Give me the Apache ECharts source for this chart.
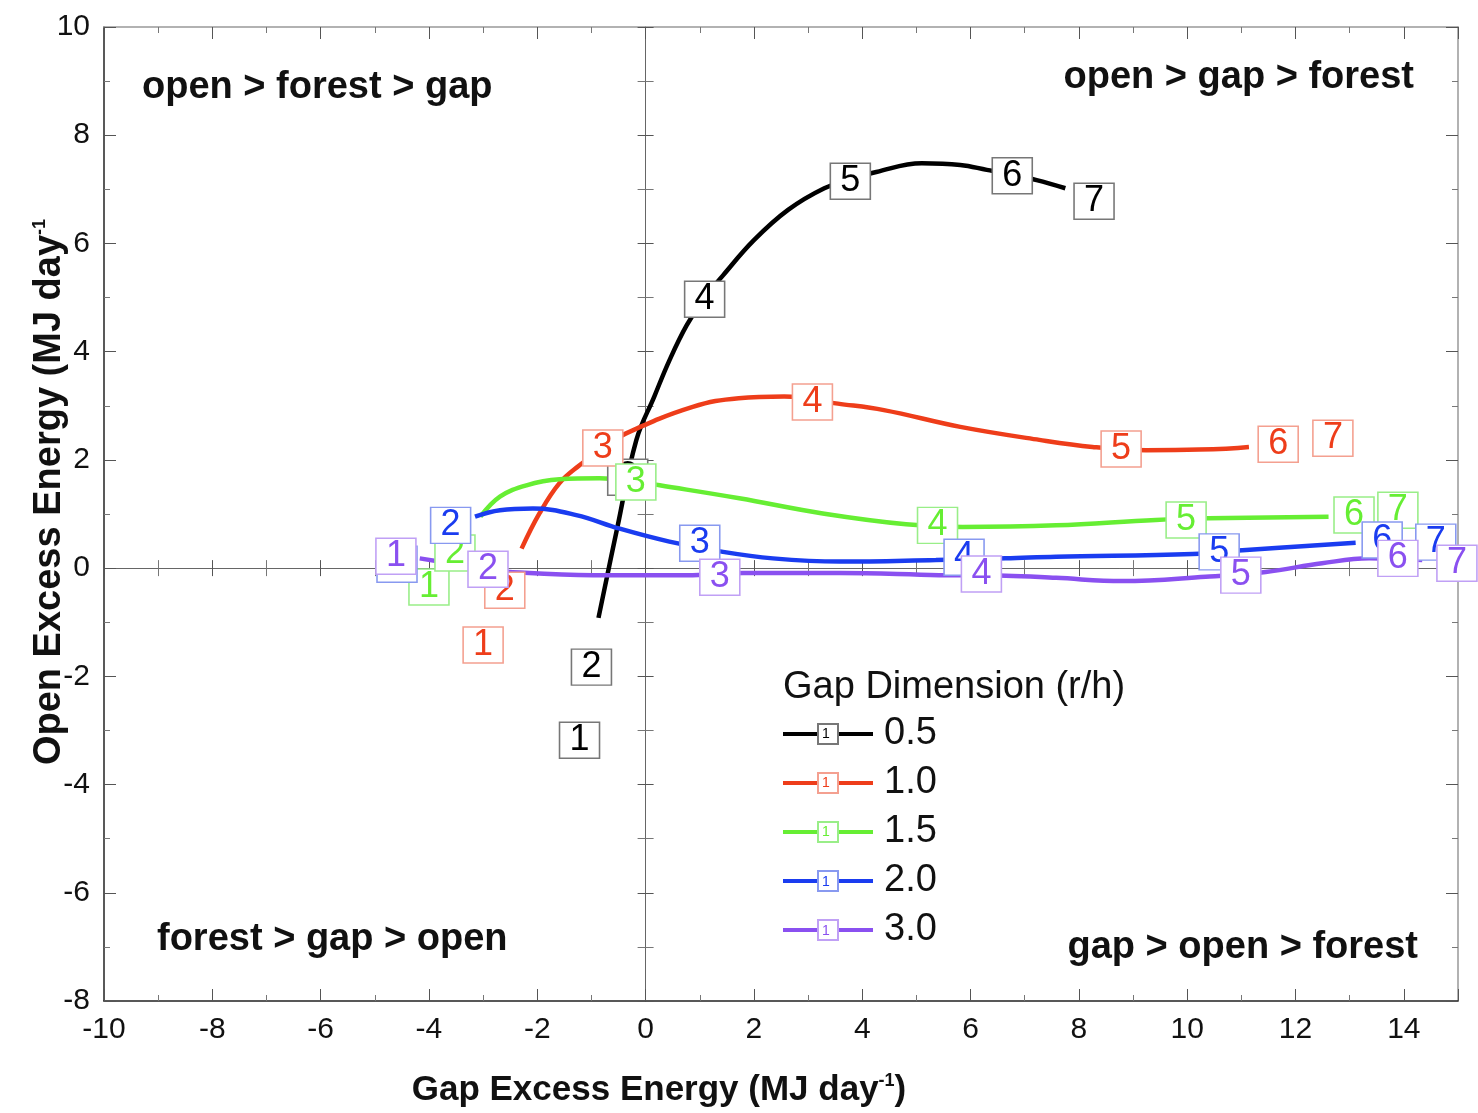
<!DOCTYPE html>
<html>
<head>
<meta charset="utf-8">
<script src="https://cdn.jsdelivr.net/npm/echarts@6/dist/echarts.min.js"></script>
<style>
  html, body { margin: 0; padding: 0; background: #fff; }
  #chart { width: 1478px; height: 1113px; }
</style>
</head>
<body>
<div id="chart"></div>
<script>
// gap dimension groups (r/h)
var groupNames = ['0.5', '1.0', '1.5', '2.0', '3.0'];
var lineColors = ['#000000', '#ee3d1a', '#66ee33', '#1a3cf0', '#8a50f0'];
var boxColors = ['#777777', '#f4a090', '#99ee88', '#8899f0', '#c0a0f5'];

// numbered points 1..7, [gap excess, open excess]
var pts05 = [[-1.22, -3.18], [-1.0, -1.83], [-0.33, 1.68], [1.09, 4.97], [3.78, 7.15], [6.77, 7.25], [8.28, 6.78]];
var pts10 = [[-3.0, -1.42], [-2.6, -0.41], [-0.79, 2.22], [3.08, 3.07], [8.78, 2.2], [11.68, 2.29], [12.69, 2.4]];
var pts15 = [[-4.0, -0.35], [-3.52, 0.28], [-0.18, 1.59], [5.39, 0.79], [9.98, 0.89], [13.08, 0.98], [13.89, 1.07]];
var pts20 = [[-4.59, 0.07], [-3.6, 0.79], [1.0, 0.46], [5.88, 0.2], [10.59, 0.3], [13.6, 0.52], [14.59, 0.48]];
var pts30 = [[-4.61, 0.22], [-2.91, -0.02], [1.37, -0.17], [6.2, -0.11], [10.99, -0.13], [13.89, 0.18], [14.98, 0.09]];

// smoothed curves
var curve05 = [[-0.87, -0.92], [-0.52, 0.76], [-0.17, 2.37], [0.16, 3.17], [0.44, 3.84], [0.76, 4.49], [1.09, 5.0],
  [1.43, 5.41], [2.0, 6.06], [2.63, 6.62], [3.3, 7.02], [3.78, 7.18], [4.26, 7.32], [5.1, 7.48], [5.81, 7.45],
  [6.3, 7.36], [6.77, 7.27], [7.22, 7.17], [7.75, 7.02]];
var curve10 = [[-2.29, 0.36], [-1.96, 1.01], [-1.59, 1.57], [-1.22, 1.9], [-0.79, 2.22], [-0.36, 2.49], [0.87, 2.98],
  [1.72, 3.14], [2.56, 3.17], [3.55, 3.04], [4.4, 2.92], [5.81, 2.61], [7.27, 2.37], [8.25, 2.24], [9.24, 2.18],
  [10.22, 2.19], [11.14, 2.24]];
var curve15 = [[-3.05, 0.95], [-2.69, 1.32], [-2.2, 1.53], [-1.59, 1.64], [-0.85, 1.66], [-0.18, 1.6], [0.26, 1.53],
  [1.73, 1.29], [3.27, 1.01], [4.81, 0.81], [5.85, 0.76], [7.58, 0.79], [9.42, 0.89], [10.4, 0.92], [12.61, 0.95]];
var curve20 = [[-3.15, 0.95], [-2.69, 1.07], [-2.08, 1.1], [-1.28, 0.98], [-0.48, 0.73], [0.44, 0.49], [1.43, 0.3],
  [2.35, 0.18], [3.58, 0.12], [5.36, 0.15], [6.65, 0.18], [7.58, 0.21], [10.1, 0.26], [11.02, 0.33], [13.11, 0.47]];
var curve30 = [[-4.17, 0.18], [-3.43, 0.06], [-2.91, -0.02], [-2.51, -0.07], [-0.97, -0.13], [0.87, -0.13], [1.8, -0.09],
  [3.58, -0.09], [5.42, -0.13], [6.65, -0.14], [7.58, -0.18], [8.8, -0.24], [10.34, -0.16], [11.45, -0.07],
  [12.49, 0.09], [13.36, 0.18], [14.34, 0.15]];

var allPts = [pts05, pts10, pts15, pts20, pts30];
var allCurves = [curve05, curve10, curve15, curve20, curve30];

var quadrantText = ['open > forest > gap', 'open > gap > forest', 'forest > gap > open', 'gap > open > forest'];

var FONT = '"Liberation Sans", Arial, Helvetica, sans-serif';

function xAx(pos, onZero, lineColor, showLabel) {
  return {
    type: 'value', min: -10, max: 15, interval: 2, position: pos,
    axisLine: { show: true, onZero: onZero, onZeroAxisIndex: 0, lineStyle: { color: lineColor, width: onZero ? 1 : 1.5 } },
    axisTick: { show: true, inside: true, length: onZero ? 8 : 12, lineStyle: { color: '#555' } },
    minorTick: { show: true, splitNumber: 2, length: onZero ? 8 : 6, lineStyle: { color: '#777' } },
    axisLabel: {
      show: showLabel, fontSize: 30, color: '#111', margin: 14, fontFamily: FONT,
      formatter: function (v) { return v === 15 ? '' : v; }
    },
    splitLine: { show: false }
  };
}
function yAx(pos, onZero, lineColor, showLabel) {
  return {
    type: 'value', min: -8, max: 10, interval: 2, position: pos,
    axisLine: { show: true, onZero: onZero, onZeroAxisIndex: 0, lineStyle: { color: lineColor, width: onZero ? 1 : 1.5 } },
    axisTick: { show: true, inside: true, length: onZero ? 8 : 12, lineStyle: { color: '#555' } },
    minorTick: { show: true, splitNumber: 2, length: onZero ? 8 : 6, lineStyle: { color: '#777' } },
    axisLabel: { show: showLabel, fontSize: 30, color: '#111', margin: 14, fontFamily: FONT },
    splitLine: { show: false }
  };
}

var series = [];
allCurves.forEach(function (c, i) {
  series.push({
    name: groupNames[i],
    type: 'line',
    data: c,
    smooth: 0.4,
    showSymbol: false,
    symbol: 'rect',
    z: 2,
    silent: true,
    lineStyle: { color: lineColors[i], width: 4.5 },
    itemStyle: { color: '#fff', borderColor: boxColors[i], borderWidth: 1 }
  });
});
allPts.forEach(function (p, i) {
  series.push({
    name: groupNames[i] + ' points',
    type: 'scatter',
    data: p,
    symbol: 'rect',
    symbolSize: [40, 36],
    z: 3 + i,
    silent: true,
    itemStyle: { color: '#fff', borderColor: boxColors[i], borderWidth: 1.5, opacity: 1 },
    label: {
      show: true, position: 'inside', fontSize: 36, fontFamily: FONT, color: lineColors[i],
      formatter: function (d) { return String(d.dataIndex + 1); }
    }
  });
});

var qStyle = { font: 'bold 38px ' + FONT, fill: '#111', verticalAlign: 'middle' };
function qText(t, x, y, align) {
  return { type: 'text', x: x, y: y, z: 20, style: Object.assign({ text: t, align: align }, qStyle) };
}

// small "1" inside each legend marker box
var legendMarks = groupNames.map(function (n, i) {
  return {
    type: 'text', x: 826, y: 734 + i * 49.3, z: 30,
    style: { text: '1', align: 'center', verticalAlign: 'middle', font: '14px ' + FONT, fill: lineColors[i] }
  };
});

var chart = echarts.init(document.getElementById('chart'));
chart.setOption({
  backgroundColor: '#fff',
  animation: false,
  grid: { left: 104, right: 20, top: 27, bottom: 112 },
  title: {
    text: 'Gap Dimension (r/h)', left: 778, top: 664,
    textStyle: { fontSize: 38, fontWeight: 'normal', color: '#111', fontFamily: FONT }
  },
  legend: {
    data: groupNames, orient: 'vertical', left: 776, top: 710,
    itemWidth: 90, itemHeight: 25, itemGap: 11, selectedMode: false,
    lineStyle: { width: 4 },
    textStyle: { fontSize: 38, color: '#111', fontFamily: FONT, padding: [0, 0, 0, 6] }
  },
  xAxis: [xAx('bottom', false, '#222', true), xAx('top', false, '#999', false),
          xAx('bottom', true, '#666', false), xAx('top', true, '#666', false)],
  yAxis: [yAx('left', false, '#222', true), yAx('right', false, '#999', false),
          yAx('left', true, '#666', false), yAx('right', true, '#666', false)],
  series: series,
  graphic: [
    qText(quadrantText[0], 142, 88, 'left'),
    qText(quadrantText[1], 1414, 78, 'right'),
    qText(quadrantText[2], 157, 940, 'left'),
    qText(quadrantText[3], 1418, 948, 'right'),
    {
      type: 'text', x: 659, y: 1090, z: 20,
      style: {
        text: 'Gap Excess Energy (MJ day{sup|-1})', align: 'center', verticalAlign: 'middle',
        font: 'bold 35px ' + FONT, fill: '#111',
        rich: { sup: { fontSize: 18, fontWeight: 'bold', fontFamily: FONT, verticalAlign: 'top', padding: [0, 0, 14, 0] } }
      }
    },
    {
      type: 'text', x: 50, y: 492, z: 20, rotation: Math.PI / 2,
      style: {
        text: 'Open Excess Energy (MJ day{sup|-1}', align: 'center', verticalAlign: 'middle',
        font: 'bold 38px ' + FONT, fill: '#111',
        rich: { sup: { fontSize: 18, fontWeight: 'bold', fontFamily: FONT, verticalAlign: 'top', padding: [0, 0, 14, 0] } }
      }
    }
  ].concat(legendMarks)
});
</script>
</body>
</html>
